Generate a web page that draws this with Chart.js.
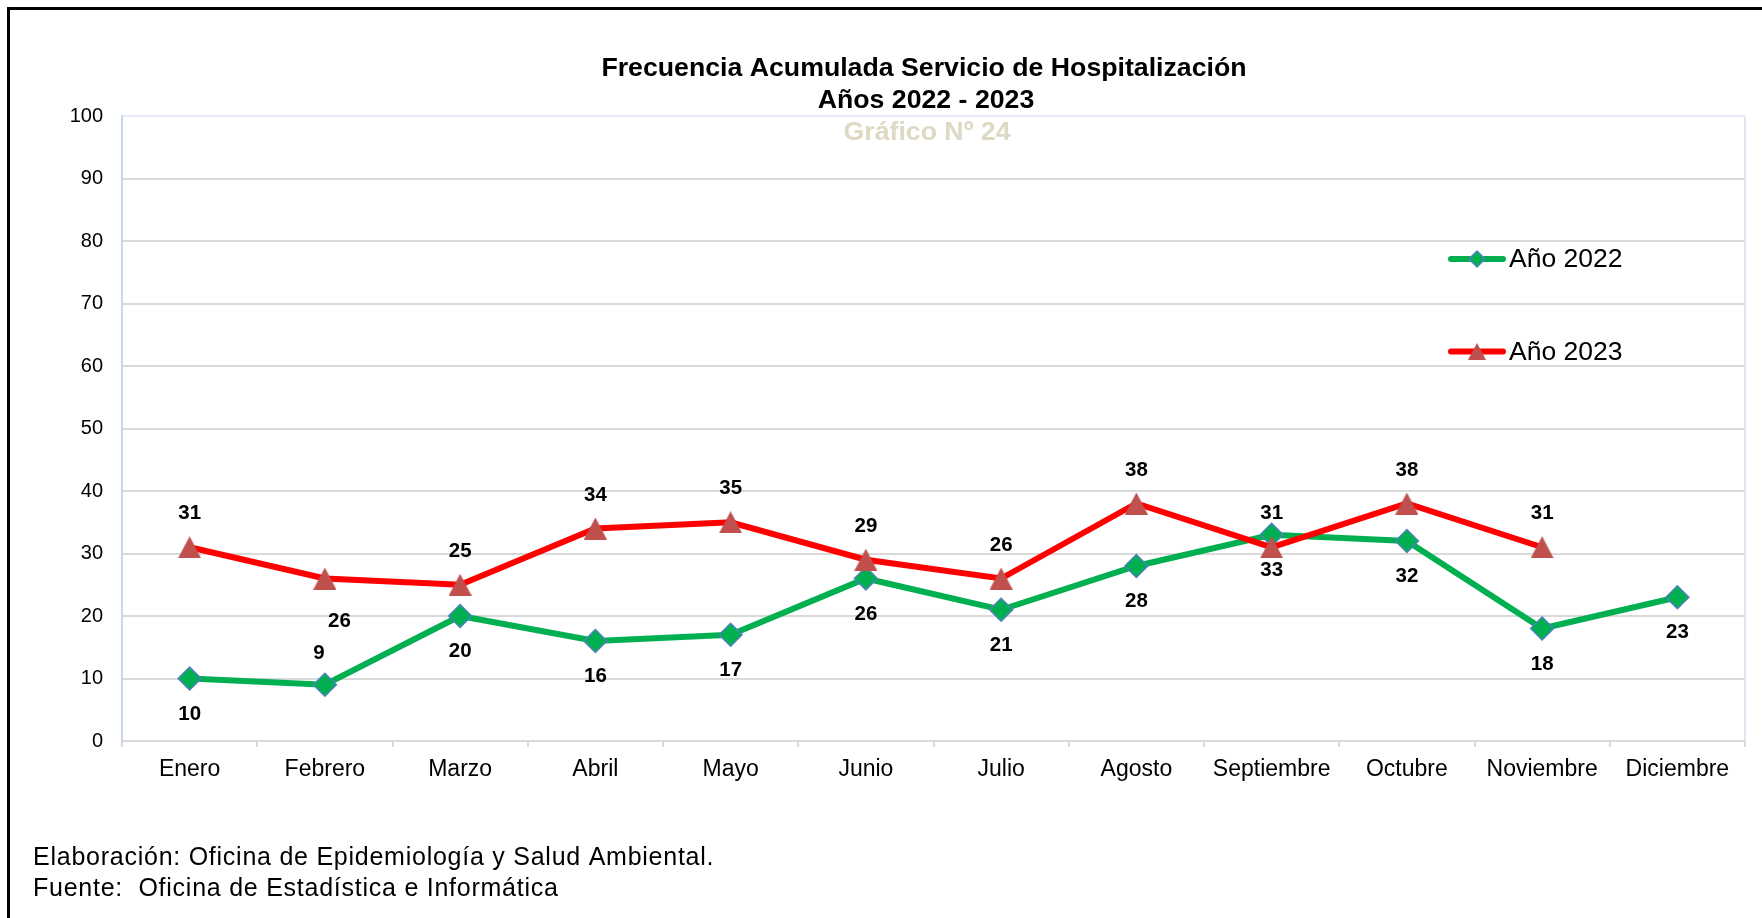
<!DOCTYPE html>
<html lang="es">
<head>
<meta charset="UTF-8">
<title>Frecuencia Acumulada Servicio de Hospitalización</title>
<style>
  html, body { margin: 0; padding: 0; background: #fff; }
  #wrap { position: relative; width: 1762px; height: 918px; }
</style>
</head>
<body>
<div id="wrap"><canvas id="chartLine" width="1762" height="918"></canvas></div>

<script src="https://cdn.jsdelivr.net/npm/chart.js@4"></script>
<script>
// datos
const meses = ['Enero', 'Febrero', 'Marzo', 'Abril', 'Mayo', 'Junio', 'Julio',
  'Agosto', 'Septiembre', 'Octubre', 'Noviembre', 'Diciembre'];
const anio2022 = [10, 9, 20, 16, 17, 26, 21, 28, 33, 32, 18, 23];
const anio2023 = [31, 26, 25, 34, 35, 29, 26, 38, 31, 38, 31, null];
const series = ['Año 2022', 'Año 2023'];
const ejeY = [0, 100, 10]; // min, max, paso

const titulo = ['Frecuencia Acumulada Servicio de Hospitalización', 'Años 2022 - 2023'];
const subtitulo = 'Gráfico Nº 24';
const notas = ['Elaboración: Oficina de Epidemiología y Salud Ambiental.',
  'Fuente:  Oficina de Estadística e Informática'];

const FONT = "'Liberation Sans', Arial, sans-serif";
const VERDE = '#00b050';
const AZUL = '#4f81bd';
const ROJO = '#ff0000';
const GRANATE = '#c0504d';

// triangulo tipo excel (un poco mas alto que equilatero)
function triangulo(w, h, color) {
  const c = document.createElement('canvas');
  c.width = w; c.height = h;
  const g = c.getContext('2d');
  g.fillStyle = color;
  g.beginPath();
  g.moveTo(w / 2, 0);
  g.lineTo(w, h);
  g.lineTo(0, h);
  g.closePath();
  g.fill();
  return c;
}

function rombo(ctx, x, y, r) {
  ctx.beginPath();
  ctx.moveTo(x, y - r);
  ctx.lineTo(x + r, y);
  ctx.lineTo(x, y + r);
  ctx.lineTo(x - r, y);
  ctx.closePath();
  ctx.fillStyle = VERDE;
  ctx.fill();
  ctx.lineWidth = 1.5;
  ctx.strokeStyle = AZUL;
  ctx.stroke();
}

// donde va cada etiqueta de valor (dx, dy respecto al punto)
const etiquetaPos = [
  { dy: 35.5, especial: { 1: [-6, -31] } },
  { dy: -33.5, especial: { 1: [14.5, 43] } }
];

const marco = {
  id: 'marco',
  beforeDraw(chart) {
    const ctx = chart.ctx;
    ctx.save();
    ctx.fillStyle = '#fff';
    ctx.fillRect(0, 0, chart.width, chart.height);
    ctx.fillStyle = '#000';
    ctx.fillRect(7, 7, chart.width - 7, 3);
    ctx.fillRect(7, 7, 3, chart.height - 7);
    ctx.restore();
  },
  beforeDatasetsDraw(chart) {
    const a = chart.chartArea, ctx = chart.ctx;
    ctx.save();
    ctx.strokeStyle = '#dde6f2';
    ctx.lineWidth = 2;
    ctx.beginPath();
    ctx.moveTo(a.right, a.top);
    ctx.lineTo(a.right, a.bottom);
    ctx.stroke();
    ctx.restore();
  },
  afterDraw(chart) {
    const ctx = chart.ctx;
    ctx.save();
    // titulo
    ctx.textAlign = 'center';
    ctx.textBaseline = 'alphabetic';
    ctx.font = 'bold 26.7px ' + FONT;
    ctx.fillStyle = '#000';
    ctx.fillText(titulo[0], 924, 76);
    ctx.fillText(titulo[1], 926, 108);
    ctx.fillStyle = '#ddd9c3';
    ctx.fillText(subtitulo, 927, 140);

    // leyenda
    const ly = [259, 351.5];
    ctx.lineCap = 'round';
    ctx.lineWidth = 6;
    [VERDE, ROJO].forEach((col, i) => {
      ctx.strokeStyle = col;
      ctx.beginPath();
      ctx.moveTo(1451, ly[i]);
      ctx.lineTo(1503, ly[i]);
      ctx.stroke();
    });
    rombo(ctx, 1477, ly[0], 8);
    ctx.drawImage(triangulo(18, 17, GRANATE), 1477 - 9, ly[1] - 8.5);
    ctx.font = '26.5px ' + FONT;
    ctx.textAlign = 'left';
    ctx.textBaseline = 'middle';
    ctx.fillStyle = '#000';
    series.forEach((s, i) => ctx.fillText(s, 1509, ly[i] + 1));

    // notas
    ctx.font = '25px ' + FONT;
    ctx.textBaseline = 'alphabetic';
    if ('letterSpacing' in ctx) ctx.letterSpacing = '0.75px';
    ctx.fillText(notas[0], 33, 865);
    ctx.fillText(notas[1], 33, 896);
    ctx.restore();
  }
};

const etiquetas = {
  id: 'etiquetas',
  afterDatasetsDraw(chart) {
    const ctx = chart.ctx;
    ctx.save();
    ctx.font = 'bold 20.5px ' + FONT;
    ctx.fillStyle = '#000';
    ctx.textAlign = 'center';
    ctx.textBaseline = 'middle';
    chart.data.datasets.forEach((ds, i) => {
      const meta = chart.getDatasetMeta(i);
      const pos = etiquetaPos[ds.serie];
      meta.data.forEach((pt, j) => {
        const v = ds.data[j];
        if (v === null || v === undefined) return;
        const esp = pos.especial[j];
        const dx = esp ? esp[0] : 0;
        const dy = esp ? esp[1] : pos.dy;
        ctx.fillText(String(v), pt.x + dx, pt.y + dy);
      });
    });
    ctx.restore();
  }
};

new Chart(document.getElementById('chartLine'), {
  type: 'line',
  data: {
    labels: meses,
    datasets: [
      {
        label: series[1],
        serie: 1,
        data: anio2023,
        borderColor: ROJO,
        borderWidth: 6,
        pointStyle: triangulo(23, 22, GRANATE),
        pointRadius: 11,
        order: 0
      },
      {
        label: series[0],
        serie: 0,
        data: anio2022,
        borderColor: VERDE,
        borderWidth: 6,
        pointStyle: 'rectRot',
        pointRadius: 11.5,
        pointBackgroundColor: VERDE,
        pointBorderColor: AZUL,
        pointBorderWidth: 1.5,
        order: 1
      }
    ]
  },
  options: {
    responsive: false,
    animation: false,
    devicePixelRatio: 1,
    layout: { padding: { left: 0, top: 116, right: 17, bottom: 0 } },
    plugins: {
      legend: { display: false },
      tooltip: { enabled: false }
    },
    scales: {
      x: {
        offset: true,
        grid: {
          offset: true,
          drawOnChartArea: false,
          tickLength: 6,
          color: '#d9d9d9',
          lineWidth: 2
        },
        border: { color: '#d9d9d9', width: 2 },
        ticks: {
          color: '#000',
          padding: 9,
          maxRotation: 0,
          autoSkip: false,
          font: { family: FONT, size: 23 }
        },
        afterFit(scale) { scale.height = 918 - 741; }
      },
      y: {
        min: ejeY[0],
        max: ejeY[1],
        grid: {
          drawTicks: false,
          lineWidth: 2,
          color: (c) => (c.tick && c.tick.value === ejeY[1]) ? '#e6edf6' : '#d9d9d9'
        },
        border: { color: '#c6d6ec', width: 2 },
        ticks: {
          stepSize: ejeY[2],
          color: '#000',
          padding: 19,
          font: { family: FONT, size: 20 }
        },
        afterFit(scale) { scale.width = 122; }
      }
    }
  },
  plugins: [marco, etiquetas]
});
</script>
</body>
</html>
